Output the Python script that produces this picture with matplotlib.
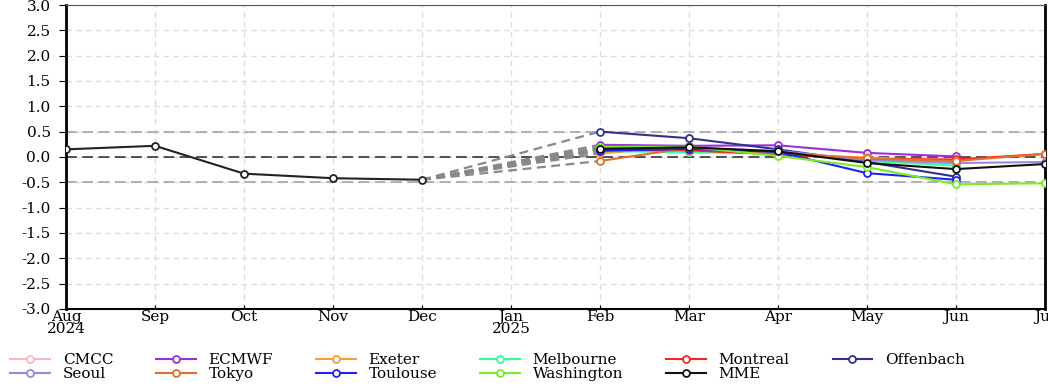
import numpy as np
import matplotlib
matplotlib.use("Agg")
import matplotlib.pyplot as plt

plt.rcParams['font.family'] = ['DejaVu Serif']

# month axis: Aug 2024 .. Jul 2025
month_labels = ["Aug\n2024", "Sep", "Oct", "Nov", "Dec", "Jan\n2025",
                "Feb", "Mar", "Apr", "May", "Jun", "Jul"]

# observed anomaly Aug..Dec
obs_values = [0.15, 0.22, -0.33, -0.42, -0.45]

# forecasts from Feb onwards
models = ["CMCC", "ECMWF", "Exeter", "Melbourne", "Montreal", "Offenbach",
          "Seoul", "Tokyo", "Toulouse", "Washington", "MME"]
colors = ["#ffb6c1", "#9b30d9", "#ff9933", "#33ff99", "#ff2020", "#303090",
          "#9f85e0", "#e0702a", "#1f1fff", "#77ee22", "#111111"]

cmcc = [0.15, 0.20, 0.10, -0.05, -0.12]
ecmwf = [0.24, 0.22, 0.23, 0.08, 0.01]
exeter = [0.07, 0.20, 0.05, -0.01, -0.08]
melbourne = [0.12, 0.09, 0.08, -0.08, -0.17]
montreal = [0.14, 0.13, 0.05, -0.04, -0.05, 0.06]
offenbach = [0.50, 0.37, 0.15, -0.10, -0.39]
seoul = [0.18, 0.18, 0.12, -0.06, -0.12, -0.10]
tokyo = [-0.08, 0.18, 0.08, -0.03, -0.08, 0.06]
toulouse = [0.12, 0.16, 0.10, -0.32, -0.45]
washington = [0.20, 0.20, 0.02, -0.20, -0.54, -0.52]
mme = [0.16, 0.19, 0.11, -0.12, -0.24, -0.14]
series = [cmcc, ecmwf, exeter, melbourne, montreal, offenbach,
          seoul, tokyo, toulouse, washington, mme]

fig = plt.figure(figsize=(10.48, 3.88), dpi=100)
ax = fig.add_axes([0.063, 0.204, 0.934, 0.783])

x_obs = np.arange(len(obs_values))
start = 6  # Feb

ax.grid(True, color="#dddddd", linestyle=(0, (4, 3)), linewidth=1)
ax.axhline(0.5, color="#aaaaaa", linestyle=(0, (6, 3)), linewidth=1.3)
ax.axhline(-0.5, color="#aaaaaa", linestyle=(0, (6, 3)), linewidth=1.3)
ax.axhline(0.0, color="#444444", linestyle=(0, (6, 3)), linewidth=1.3)

# connectors from last obs to first forecast month
for vals in series:
    ax.plot([x_obs[-1], start], [obs_values[-1], vals[0]], color="#888888",
            linestyle=(0, (4, 2.5)), linewidth=1.6, zorder=2)

ax.plot(x_obs, obs_values, color="#222222", linewidth=1.5, marker="o",
        markersize=5, markerfacecolor="white", markeredgewidth=1.3, zorder=4)

handles = {}
for name, c, vals in zip(models, colors, series):
    xs = np.arange(start, start + len(vals))
    h, = ax.plot(xs, vals, color=c, linewidth=1.5, marker="o", markersize=5,
                 markerfacecolor="white", markeredgewidth=1.3, label=name,
                 zorder=5 if name != "MME" else 6)
    handles[name] = h

ax.set_xlim(0, 11)
ax.set_ylim(-3, 3)
ax.set_xticks(np.arange(len(month_labels)))
ax.set_xticklabels(month_labels, fontsize=11, linespacing=0.8)
ax.set_yticks(np.arange(-3, 3.01, 0.5))
ax.set_yticklabels([f"{v:.1f}" for v in np.arange(-3, 3.01, 0.5)], fontsize=11)
ax.tick_params(axis="x", direction="in", length=3, pad=1)
ax.tick_params(axis="y", direction="out", length=5, pad=6)

ax.spines["left"].set_linewidth(2)
ax.spines["right"].set_linewidth(2)
ax.spines["bottom"].set_linewidth(1.5)
ax.spines["top"].set_color("#555555")

order = ["CMCC", "Seoul", "ECMWF", "Tokyo", "Exeter", "Toulouse",
         "Melbourne", "Washington", "Montreal", "MME", "Offenbach"]
fig.legend([handles[n] for n in order], order, ncol=6, loc="upper left",
           bbox_to_anchor=(0.0095, 0.09), frameon=False, fontsize=11,
           handlelength=2.6, handletextpad=0.85, columnspacing=2.8,
           labelspacing=0.0, borderaxespad=0, borderpad=0)

fig.savefig("out.png", dpi=100)
